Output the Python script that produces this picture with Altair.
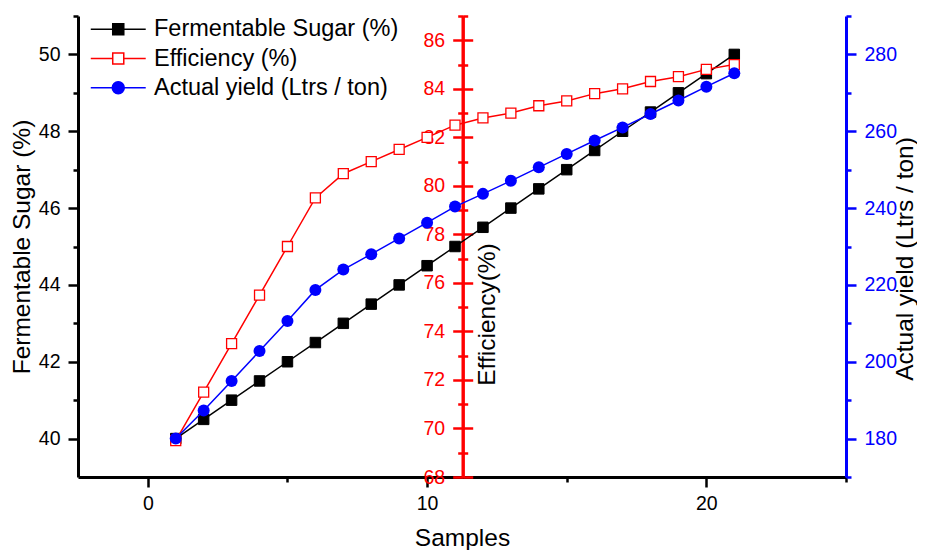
import altair as alt
import pandas as pd

# ---- data ----
samples = [1, 2, 3, 4, 5, 6, 7, 8, 9, 10, 11, 12, 13, 14, 15, 16, 17, 18, 19, 20, 21]
sugar = [40.0, 40.5, 41.0, 41.5, 42.0, 42.5, 43.0, 43.5, 44.0, 44.5, 45.0,
         45.5, 46.0, 46.5, 47.0, 47.5, 48.0, 48.5, 49.0, 49.5, 50.0]
efficiency = [69.5, 71.5, 73.5, 75.5, 77.5, 79.5, 80.5, 81.0, 81.5, 82.0, 82.5,
              82.8, 83.0, 83.3, 83.5, 83.8, 84.0, 84.3, 84.5, 84.8, 85.0]
actual_yield = [180.0, 187.3, 195.0, 202.8, 210.6, 218.7, 224.0, 228.0, 232.1, 236.2, 240.4,
                243.7, 247.1, 250.6, 254.1, 257.6, 261.0, 264.5, 268.0, 271.6, 275.1]

series_names = ["Fermentable Sugar (%)", "Efficiency (%)", "Actual yield (Ltrs / ton)"]
series_colors = ["#000000", "#ff0000", "#0000ff"]

x_ticks = [0, 5, 10, 15, 20, 25]
sugar_ticks = [40, 41, 42, 43, 44, 45, 46, 47, 48, 49, 50, 51]
eff_ticks = [68, 69, 70, 71, 72, 73, 74, 75, 76, 77, 78, 79, 80, 81, 82, 83, 84, 85, 86, 87]
yield_ticks = [170, 180, 190, 200, 210, 220, 230, 240, 250, 260, 270, 280, 290]

rows = []
for name, vals in zip(series_names, [sugar, efficiency, actual_yield]):
    for s, v in zip(samples, vals):
        rows.append({"sample": s, "value": v, "series": name})
df = pd.DataFrame(rows)

FONT = "Liberation Sans"
LABEL_SIZE = 19.5
TITLE_SIZE = 24.5

def tsize(test):
    return {"condition": {"test": test, "value": 10}, "value": 5}

x_enc = alt.X(
    "sample:Q", title="Samples",
    scale=alt.Scale(domain=[-2.5, 25], nice=False, zero=False),
    axis=alt.Axis(values=x_ticks, labelExpr="datum.value % 10 === 0 ? datum.label : ''",
                  tickSize=tsize("datum.value % 10 === 0"), tickWidth=2.5, tickColor="black",
                  domainWidth=3, domainColor="black", labelColor="black", labelFontSize=LABEL_SIZE,
                  labelFont=FONT, labelPadding=7, labelFlush=False, labelOverlap=False,
                  titleFont=FONT, titleFontSize=TITLE_SIZE, titleFontWeight="normal", titleColor="black",
                  titleBaseline="alphabetic", titleY=68, grid=False),
)

SQ = "M-4.58,0H-0.92M0.92,0H4.58M-0.92,-0.92H0.92V0.92H-0.92Z"
CIRC = "M-4.58,0H-1M1,0H4.58M-1,0A1,1,0,1,0,1,0A1,1,0,1,0,-1,0Z"
n0, n1, n2 = series_names

legend = alt.Legend(
    orient="none", legendX=14, legendY=1.5, title=None, padding=0, direction="vertical",
    symbolSize=144, symbolOffset=14.5, labelOffset=24, labelFont=FONT, labelFontSize=23.5,
    labelColor="black", labelLimit=400, rowPadding=4.3, symbolStrokeWidth=1.5, symbolOpacity=1,
    symbolType={"expr": f"datum.value === '{n2}' ? '{CIRC}' : '{SQ}'"},
    symbolFillColor={"expr": f"datum.value === '{n0}' ? '#000000' : datum.value === '{n1}' ? '#ffffff' : '#0000ff'"},
    symbolStrokeColor={"expr": f"datum.value === '{n0}' ? '#000000' : datum.value === '{n1}' ? '#ff0000' : '#0000ff'"},
)
color_enc = alt.Color("series:N", scale=alt.Scale(domain=series_names, range=series_colors), legend=legend)

def yaxis(color, values, even_test, orient, offset=0, labels=True, title=None, **kw):
    d = dict(orient=orient, values=values, offset=offset, grid=False,
             domainColor=color, domainWidth=3, tickColor=color, tickWidth=2.5,
             tickSize=tsize(even_test), labels=labels, labelColor=color, labelFont=FONT,
             labelFontSize=LABEL_SIZE, labelPadding=8, labelFlush=False, labelOverlap=False,
             labelExpr=f"{even_test} ? datum.label : ''")
    if title is not None:
        d.update(title=title, titleFont=FONT, titleFontSize=TITLE_SIZE, titleFontWeight="normal",
                 titleColor="black", titleAngle=270, titleBaseline="alphabetic", titleAlign="center")
        d.update(kw)
    else:
        d.update(title=None)
    return alt.Axis(**d)

sugar_scale = alt.Scale(domain=[39, 51], nice=False, zero=False)
eff_scale = alt.Scale(domain=[68, 87], nice=False, zero=False)
yield_scale = alt.Scale(domain=[170, 290], nice=False, zero=False)

ev2 = "datum.value % 2 === 0"
ev20 = "datum.value % 20 === 0"

def sub(name):
    return alt.Chart(df).transform_filter(alt.datum.series == name)

black_line = sub(n0).mark_line(strokeWidth=1.5).encode(
    x=x_enc, color=color_enc,
    y=alt.Y("value:Q", scale=sugar_scale,
            axis=yaxis("black", sugar_ticks, ev2, "left", title="Fermentable Sugar (%)", titleX=-49)))
black_pts = sub(n0).mark_point(shape="square", filled=True, fill="#000000", stroke="#000000",
                               strokeWidth=1, size=110, opacity=1).encode(
    x=x_enc, y=alt.Y("value:Q", scale=sugar_scale, axis=None))

red_line = sub(n1).mark_line(strokeWidth=1.5).encode(
    x=x_enc, color=color_enc,
    y=alt.Y("value:Q", scale=eff_scale,
            axis=yaxis("#ff0000", eff_ticks, ev2, "left", offset=-384.7, title="Efficiency(%)",
                       titleX=32, titleY=298)))
red_pts = sub(n1).mark_point(shape="square", filled=True, fill="#ffffff", stroke="#ff0000",
                             strokeWidth=1.3, size=100, opacity=1).encode(
    x=x_enc,
    y=alt.Y("value:Q", scale=eff_scale,
            axis=yaxis("#ff0000", eff_ticks, ev2, "right", offset=-383.3, labels=False)))

blue_line = sub(n2).mark_line(strokeWidth=1.5).encode(
    x=x_enc, color=color_enc,
    y=alt.Y("value:Q", scale=yield_scale,
            axis=yaxis("#0000ff", yield_ticks, ev20, "right", title="Actual yield (Ltrs / ton)",
                       titleX=66, titleY=242.5)))
blue_pts = sub(n2).mark_point(shape="circle", filled=True, fill="#0000ff", strokeWidth=0,
                              size=144, opacity=1).encode(
    x=x_enc, y=alt.Y("value:Q", scale=yield_scale, axis=None))

chart = alt.layer(black_line, black_pts, red_line, red_pts, blue_line, blue_pts).resolve_scale(
    y="independent"
).properties(
    width=768, height=461,
    padding={"left": 70, "top": 8, "right": 71, "bottom": 73},
    autosize=alt.AutoSizeParams(type="none"),
    background="white",
).configure_view(stroke=None)

chart.save("out.html", embed_options={"renderer": "svg", "actions": False})
